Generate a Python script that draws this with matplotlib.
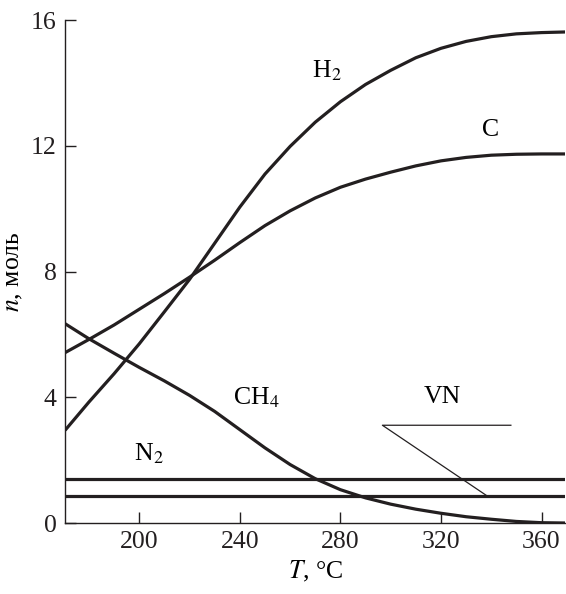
import matplotlib
matplotlib.use('Agg')
from matplotlib import pyplot as plt

plt.rcParams['font.family'] = ['Liberation Serif', 'DejaVu Serif']
plt.rcParams['mathtext.fontset'] = 'stix'

# temperature grid, deg C
T = [170.5, 180, 190, 200, 210, 220, 230, 240, 250, 260, 270,
     280, 290, 300, 310, 320, 330, 340, 350, 360, 369.5]

# moles
h2 = [2.95, 3.85, 4.75, 5.7, 6.72, 7.75, 8.9, 10.05, 11.1, 11.98, 12.75,
      13.4, 13.95, 14.4, 14.8, 15.1, 15.32, 15.47, 15.56, 15.6, 15.62]
c = [5.42, 5.84, 6.3, 6.8, 7.3, 7.82, 8.36, 8.92, 9.46, 9.93, 10.34,
     10.68, 10.94, 11.16, 11.36, 11.52, 11.63, 11.7, 11.73, 11.74, 11.74]
ch4 = [6.34, 5.86, 5.4, 4.95, 4.52, 4.06, 3.55, 2.97, 2.39, 1.86, 1.41,
       1.06, 0.8, 0.6, 0.44, 0.31, 0.2, 0.12, 0.05, 0.01, 0.0]
n2 = 1.4
vn = 0.87

xticks = [200, 240, 280, 320, 360]
yticks = [0, 4, 8, 12, 16]

fig = plt.figure(figsize=(5.66, 5.94), dpi=100)
ax = fig.add_axes([0.115, 0.1195, 0.884, 0.8468])

lw = 2.3
ax.plot(T, h2, color='#231f20', lw=lw, solid_capstyle='butt')
ax.plot(T, c, color='#231f20', lw=lw, solid_capstyle='butt')
ax.plot(T, ch4, color='#231f20', lw=lw, solid_capstyle='butt')
ax.axhline(n2, color='#231f20', lw=lw)
ax.axhline(vn, color='#231f20', lw=lw)

# leader for VN
lead_x = [347.8, 296.7, 338.2]
lead_y = [3.11, 3.11, vn]
ax.plot(lead_x, lead_y, color='#231f20', lw=0.9)

fs = 18.5
ax.text(274.5, 14.4, 'H$_2$', fontsize=fs, ha='center', va='center')
ax.text(339.8, 12.5, 'C', fontsize=fs, ha='center', va='center')
ax.text(246.5, 4.0, 'CH$_4$', fontsize=fs, ha='center', va='center')
ax.text(320.6, 4.0, 'VN', fontsize=fs, ha='center', va='center')
ax.text(204, 2.2, 'N$_2$', fontsize=fs, ha='center', va='center')

ax.set_xlim(170.5, 369.5)
ax.set_ylim(0, 16)
ax.set_xticks(xticks)
ax.set_yticks(yticks)
ax.tick_params(direction='in', length=8, width=1, labelsize=fs, pad=6,
               colors='#231f20')
for s in ['top', 'right']:
    ax.spines[s].set_visible(False)
for s in ['left', 'bottom']:
    ax.spines[s].set_linewidth(1)
    ax.spines[s].set_color('#231f20')

ax.set_xlabel('$T$, °C', fontsize=fs, labelpad=4)
ax.set_ylabel('$n$, моль', fontsize=fs, labelpad=4)

fig.savefig('out.png', dpi=100)
